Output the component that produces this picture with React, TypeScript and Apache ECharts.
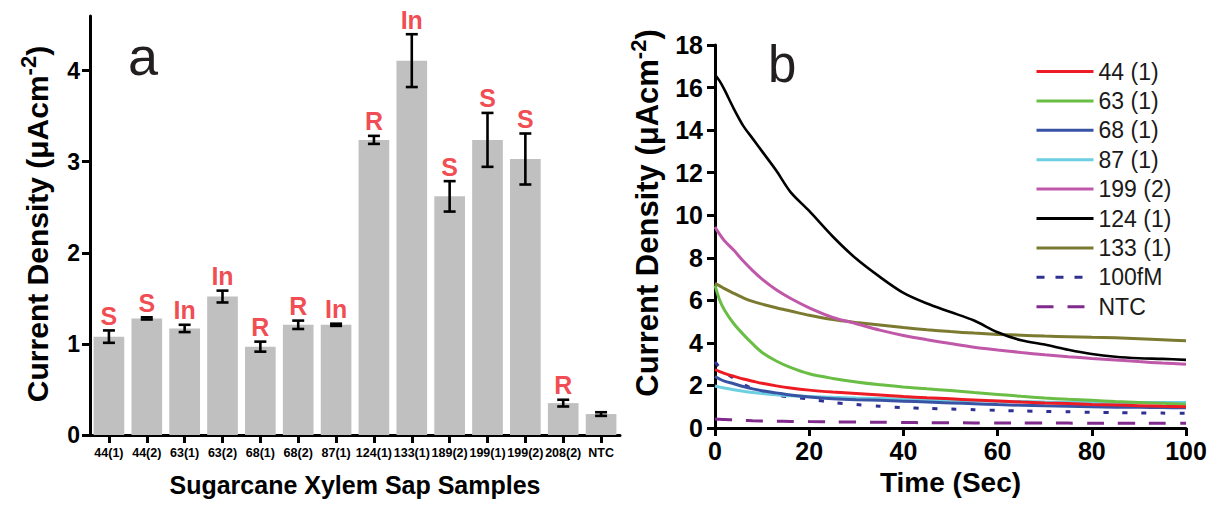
import React, { useEffect, useRef } from "react";
import * as echarts from "echarts";

// ---------- Panel a data ----------
const categories = ["44(1)", "44(2)", "63(1)", "63(2)", "68(1)", "68(2)", "87(1)", "124(1)", "133(1)", "189(2)", "199(1)", "199(2)", "208(2)", "NTC"];
const means = [1.08, 1.28, 1.17, 1.52, 0.97, 1.21, 1.21, 3.24, 4.11, 2.62, 3.24, 3.03, 0.35, 0.23];
const errors = [0.068, 0.012, 0.04, 0.065, 0.055, 0.046, 0.012, 0.044, 0.29, 0.167, 0.296, 0.28, 0.037, 0.02];
const letters = ["S", "S", "In", "In", "R", "R", "In", "R", "In", "S", "S", "S", "R", ""];
const yTicksA = [0, 1, 2, 3, 4];

// ---------- Panel b data ----------
const times = [0, 1, 2, 4, 6, 8, 10, 13, 16, 20, 25, 30, 35, 40, 45, 50, 55, 60, 65, 70, 75, 80, 85, 90, 95, 100];
const s44 = [2.75, 2.65, 2.57, 2.43, 2.3, 2.2, 2.1, 1.98, 1.88, 1.78, 1.69, 1.62, 1.55, 1.48, 1.42, 1.37, 1.32, 1.27, 1.22, 1.18, 1.15, 1.11, 1.08, 1.05, 1.02, 1.0];
const s63 = [6.7, 6.0, 5.55, 4.9, 4.4, 3.95, 3.55, 3.15, 2.85, 2.55, 2.33, 2.16, 2.03, 1.93, 1.84, 1.76, 1.67, 1.58, 1.49, 1.41, 1.35, 1.3, 1.24, 1.2, 1.16, 1.12];
const s68 = [2.42, 2.3, 2.2, 2.08, 1.95, 1.84, 1.75, 1.65, 1.55, 1.46, 1.38, 1.33, 1.3, 1.26, 1.22, 1.18, 1.14, 1.1, 1.07, 1.04, 1.02, 1.0, 0.98, 0.97, 0.96, 0.95];
const s87 = [1.97, 1.92, 1.88, 1.8, 1.73, 1.67, 1.62, 1.56, 1.51, 1.48, 1.44, 1.41, 1.39, 1.36, 1.33, 1.31, 1.28, 1.26, 1.24, 1.22, 1.21, 1.2, 1.2, 1.2, 1.2, 1.2];
const s199 = [9.45, 9.1, 8.8, 8.35, 7.85, 7.4, 7.0, 6.5, 6.1, 5.65, 5.2, 4.9, 4.6, 4.35, 4.15, 3.97, 3.8, 3.67, 3.55, 3.44, 3.35, 3.27, 3.2, 3.12, 3.05, 3.0];
const s124 = [16.6, 16.3, 15.9, 15.0, 14.2, 13.6, 13.0, 12.1, 11.1, 10.2, 9.0, 7.95, 7.1, 6.35, 5.85, 5.45, 5.05, 4.5, 4.12, 3.92, 3.68, 3.48, 3.35, 3.28, 3.25, 3.2];
const s133 = [6.8, 6.68, 6.55, 6.33, 6.12, 5.95, 5.82, 5.65, 5.5, 5.3, 5.1, 4.96, 4.84, 4.72, 4.62, 4.53, 4.46, 4.4, 4.36, 4.32, 4.29, 4.26, 4.24, 4.2, 4.15, 4.1];
const s100fM = [3.1, 2.85, 2.65, 2.33, 2.05, 1.85, 1.7, 1.55, 1.45, 1.36, 1.2, 1.1, 1.02, 0.96, 0.92, 0.89, 0.86, 0.83, 0.8, 0.78, 0.76, 0.74, 0.72, 0.71, 0.7, 0.69];
const sNTC = [0.42, 0.41, 0.4, 0.38, 0.36, 0.34, 0.33, 0.32, 0.31, 0.3, 0.29, 0.28, 0.27, 0.26, 0.25, 0.25, 0.24, 0.24, 0.23, 0.23, 0.23, 0.22, 0.22, 0.22, 0.22, 0.22];

const lineNames = ["44 (1)", "63 (1)", "68 (1)", "87 (1)", "199 (2)", "124 (1)", "133 (1)", "100fM", "NTC"];
const lineValues = [s44, s63, s68, s87, s199, s124, s133, s100fM, sNTC];
const lineColors = ["#ed1c24", "#6abd45", "#3953a4", "#6ccfe2", "#c058a9", "#000000", "#7b7a30", "#2e3192", "#7f2a8c"];
const lineTypes: any[] = ["solid", "solid", "solid", "solid", "solid", "solid", "solid", [5, 14], [17, 14]];
const legendTypes: any[] = ["solid", "solid", "solid", "solid", "solid", "solid", "solid", [8, 11], [17, 14]];

const FONT = "'Liberation Sans', Arial, Helvetica, sans-serif";

export default function App() {
  const ref = useRef<HTMLDivElement>(null);
  useEffect(() => {
    if (!ref.current) return;
    const chart = echarts.init(ref.current, null, { renderer: "svg" });

    const axisLine = { show: true, lineStyle: { color: "#000", width: 3 } };
    const axisTick = { show: true, inside: false, length: 8, lineStyle: { color: "#000", width: 3 } };

    const titleRich = (size: number) => ({
      m: { fontSize: size, fontWeight: "bold", fontFamily: FONT, lineHeight: 40, verticalAlign: "middle", fill: "#000", color: "#000" },
      s: { fontSize: 22, fontWeight: "bold", fontFamily: FONT, lineHeight: 25, verticalAlign: "top", fill: "#000", color: "#000" },
    });

    const option: any = {
      animation: false,
      backgroundColor: "#ffffff",
      grid: [
        { left: 90, top: 16, width: 530, height: 419 },
        { left: 715, top: 45, width: 471, height: 383 },
      ],
      xAxis: [
        {
          type: "category",
          gridIndex: 0,
          data: categories,
          axisLine,
          axisTick: { ...axisTick, alignWithLabel: true },
          axisLabel: { color: "#000", fontFamily: FONT, fontWeight: "bold", fontSize: 12.5, margin: 11, interval: 0 },
          splitLine: { show: false },
          name: "Sugarcane Xylem Sap Samples",
          nameLocation: "middle",
          nameGap: 37,
          nameTextStyle: { color: "#000", fontFamily: FONT, fontWeight: "bold", fontSize: 25 },
        },
        {
          type: "value",
          gridIndex: 1,
          min: 0,
          max: 100,
          interval: 20,
          axisLine,
          axisTick,
          axisLabel: { color: "#000", fontFamily: FONT, fontWeight: "bold", fontSize: 25, margin: 10 },
          splitLine: { show: false },
          name: "Time (Sec)",
          nameLocation: "middle",
          nameGap: 40,
          nameTextStyle: { color: "#000", fontFamily: FONT, fontWeight: "bold", fontSize: 28 },
        },
      ],
      yAxis: [
        {
          type: "value",
          gridIndex: 0,
          min: 0,
          max: 4.6,
          interval: 1,
          axisLine,
          axisTick: { ...axisTick, customValues: yTicksA },
          axisLabel: { color: "#000", fontFamily: FONT, fontWeight: "bold", fontSize: 23, margin: 10, customValues: yTicksA },
          splitLine: { show: false },
        },
        {
          type: "value",
          gridIndex: 1,
          min: 0,
          max: 18,
          interval: 2,
          axisLine,
          axisTick,
          axisLabel: { color: "#000", fontFamily: FONT, fontWeight: "bold", fontSize: 25, margin: 12 },
          splitLine: { show: false },
        },
      ],
      legend: {
        show: true,
        orient: "vertical",
        left: 1035,
        top: 60,
        padding: 0,
        itemWidth: 57,
        itemHeight: 14,
        itemGap: 6.4,
        data: lineNames.map((name, k) => ({ name, lineStyle: { type: legendTypes[k], width: 3 } })),
        itemStyle: { color: "rgba(0,0,0,0)", borderColor: "rgba(0,0,0,0)", borderWidth: 0, opacity: 0 },
        lineStyle: { width: 3 },
        textStyle: { color: "#1a1a1a", fontFamily: FONT, fontSize: 23, lineHeight: 23 },
      },
      graphic: [
        { type: "text", x: 128, y: 56, style: { text: "a", fontFamily: FONT, fontSize: 54, fill: "#231f20", verticalAlign: "middle" } },
        { type: "text", x: 768, y: 64, style: { text: "b", fontFamily: FONT, fontSize: 51, fill: "#231f20", verticalAlign: "middle" } },
        {
          type: "text",
          x: 37,
          y: 224,
          rotation: Math.PI / 2,
          style: { text: "{m|Current Density (μAcm}{s|-2}{m|)}", rich: titleRich(30), align: "center", verticalAlign: "middle" },
        },
        {
          type: "text",
          x: 647,
          y: 213,
          rotation: Math.PI / 2,
          style: { text: "{m|Current Density (μAcm}{s|-2}{m|)}", rich: titleRich(31), align: "center", verticalAlign: "middle" },
        },
      ],
      series: [
        {
          type: "bar",
          name: "Current Density",
          xAxisIndex: 0,
          yAxisIndex: 0,
          data: means,
          barCategoryGap: "19%",
          itemStyle: { color: "#c0c0c0" },
          silent: true,
        },
        {
          type: "custom",
          name: "error",
          xAxisIndex: 0,
          yAxisIndex: 0,
          data: means.map((m, i) => [i, m - errors[i], m + errors[i]]),
          renderItem: (params: any, api: any) => {
            const i = api.value(0);
            const lo = api.coord([i, api.value(1)]);
            const hi = api.coord([i, api.value(2)]);
            const hw = 6;
            const st = { stroke: "#000", lineWidth: 2.6 };
            return {
              type: "group",
              children: [
                { type: "line", shape: { x1: lo[0], y1: lo[1], x2: hi[0], y2: hi[1] }, style: st },
                { type: "line", shape: { x1: lo[0] - hw, y1: lo[1], x2: lo[0] + hw, y2: lo[1] }, style: st },
                { type: "line", shape: { x1: hi[0] - hw, y1: hi[1], x2: hi[0] + hw, y2: hi[1] }, style: st },
              ],
            };
          },
          silent: true,
          z: 3,
        },
        {
          type: "scatter",
          name: "labels",
          xAxisIndex: 0,
          yAxisIndex: 0,
          symbolSize: 0,
          data: means.map((m, i) => m + errors[i]),
          label: {
            show: true,
            position: "top",
            distance: 2,
            formatter: (p: any) => letters[p.dataIndex],
            color: "#ee1c25",
            fontFamily: FONT,
            fontWeight: "bold",
            fontSize: 25,
          },
          silent: true,
          z: 4,
        },
        ...lineNames.map((name, k) => ({
          type: "line",
          name,
          xAxisIndex: 1,
          yAxisIndex: 1,
          data: times.map((t, i) => [t, lineValues[k][i]]),
          symbol: "none",
          smooth: 0.3,
          lineStyle: { color: lineColors[k], width: k === 5 ? 2.6 : 3, type: lineTypes[k] },
          itemStyle: { color: lineColors[k] },
          z: 2 + (8 - k) * 0.01,
        })),
      ],
    };

    chart.setOption(option);
    return () => chart.dispose();
  }, []);

  return (
    <div
      ref={ref}
      style={{ position: "fixed", left: 0, top: 0, width: 1221, height: 511, background: "#fff" }}
    />
  );
}
